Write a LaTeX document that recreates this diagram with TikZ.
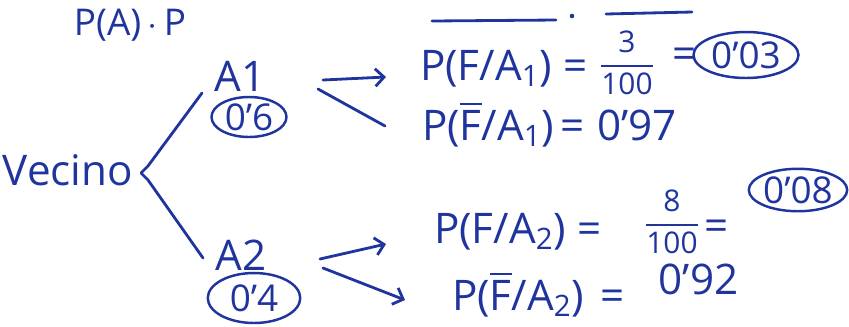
\documentclass[tikz,border=0pt]{standalone}
\usepackage{amsmath}
\usepackage{fontspec}
\setmainfont{Open Sans}
\usetikzlibrary{arrows.meta, shapes.geometric}
\definecolor{ink}{RGB}{32,52,158}

\begin{document}
\begin{tikzpicture}[x=0.02cm, y=-0.02cm,
    hand/.style={draw=ink, line width=1.6pt, line cap=round, line join=round},
    arr/.style={hand, -{Straight Barb[length=5pt, width=10pt]}},
    lbl/.style={text=ink, font=\fontsize{24}{28}\selectfont, inner sep=1pt},
    frm/.style={lbl, anchor=base west},
    prob/.style={lbl, ellipse, draw=ink, line width=1.4pt, inner sep=0pt,
                 font=\fontsize{21}{24}\selectfont},
    fracn/.style={lbl, font=\fontsize{17}{20}\selectfont}
  ]
  \useasboundingbox (0,0) rectangle (849,326);

  \node[lbl, font=\fontsize{21}{24}\selectfont] (pa) at (130,25) {P(A)\,$\cdot$\,P};
  \draw[hand] (432,21) -- (556,20);
  \fill[ink] (572,16) circle (1.3pt);
  \draw[hand] (606,14) -- (692,12);

  \node[lbl] (vec) at (68,170) {Vecino};
  \node[lbl] (a1) at (240,76) {A1};
  \node[prob, minimum width=1.5cm, minimum height=0.8cm] (p1) at (249,117) {0'6};
  \node[lbl] (a2) at (241,255) {A2};
  \node[prob, minimum width=1.85cm, minimum height=1cm] (p2) at (254,298) {0'4};

  % tree
  \coordinate (b1) at (202,93);
  \coordinate (tip) at (141,173);
  \coordinate (b2) at (203,258);
  \draw[hand] (b1) -- (148,166) -- (tip) -- (148,180) -- (b2);

  % rows for A1
  \node[frm] (f1) at (418,80) {P(F/A\textsubscript{1}) =};
  \node[fracn] (fr1) at (627,63) {$\dfrac{\text{3}}{\text{100}}$};
  \node[lbl] (e1) at (685,58) {=};
  \node[prob, minimum width=2.1cm, minimum height=0.92cm] (r1) at (746,55) {0'03};
  \node[frm] (nf1) at (420,140) {P($\overline{\text{F}}$/A\textsubscript{1})\hspace{0.15em}=\hspace{0.3em}0'97};

  \coordinate (a1u) at (323,80);  \coordinate (f1u) at (386,77);
  \coordinate (a1d) at (318,89);  \coordinate (f1d) at (385,126);
  \draw[arr] (a1u) -- (f1u);
  \draw[hand] (a1d) -- (f1d);

  % rows for A2
  \node[frm] (f2) at (432,243) {P(F/A\textsubscript{2}) =};
  \node[fracn] (fr2) at (672,222) {$\dfrac{\text{8}}{\text{100}}$};
  \node[lbl] (e2) at (717,230) {=};
  \node[prob, minimum width=1.7cm, minimum height=0.85cm] (r2) at (798,190) {0'08};
  \node[frm] (nf2) at (450,310) {P($\overline{\text{F}}$/A\textsubscript{2})\hspace{0.4em}=\hspace{0.8em}\raisebox{0.7ex}{0'92}};

  \coordinate (a2u) at (320,259);  \coordinate (f2u) at (386,244);
  \coordinate (a2d) at (323,268);  \coordinate (f2d) at (405,300);
  \draw[arr] (a2u) -- (f2u);
  \draw[arr] (a2d) -- (f2d);
\end{tikzpicture}
\end{document}
